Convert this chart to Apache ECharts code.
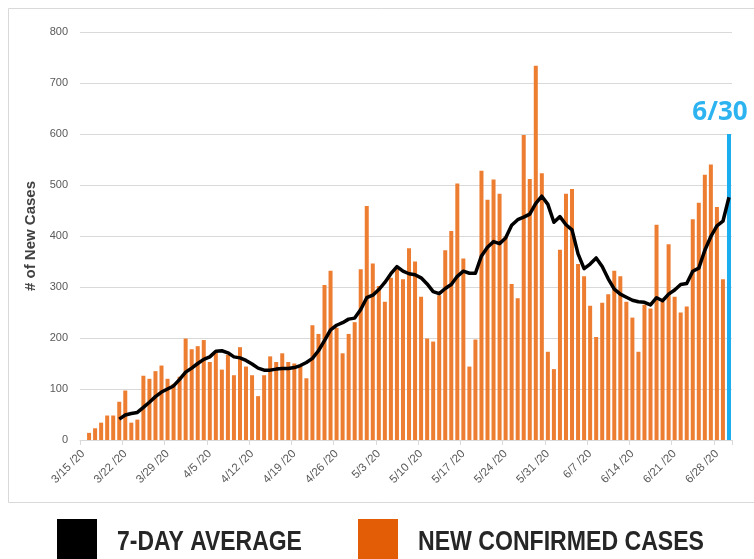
<!DOCTYPE html>
<html>
<head>
    <meta charset="utf-8">
    <title>New Confirmed Cases</title>
    <style>
        html, body { margin: 0; padding: 0; background: #fff; }
        #main { width: 754px; height: 559px; }
    </style>
</head>
<body>
<div id="main"></div>

<script src="https://cdn.jsdelivr.net/npm/echarts@6/dist/echarts.min.js"></script>
<script>
    // days 3/15 .. 6/30, label text as drawn on the axis
    var months = [[3, 15, 31], [4, 1, 30], [5, 1, 31], [6, 1, 30]];
    var days = [];
    months.forEach(function (m) {
        for (var d = m[1]; d <= m[2]; d++) {
            days.push(m[0] + '/' + d + ' /20');
        }
    });

    // daily new confirmed cases (last one = 6/30, drawn in blue)
    var newCases = [
        0, 14, 23, 34, 48, 48, 75, 97, 34, 40,
        126, 120, 135, 146, 120, 110, 124, 199, 178, 184,
        196, 153, 171, 138, 167, 127, 182, 144, 127, 86,
        127, 164, 153, 170, 153, 150, 146, 121, 225, 208,
        304, 332, 220, 170, 208, 231, 335, 459, 346, 302,
        271, 318, 339, 315, 376, 350, 281, 199, 193, 284,
        372, 410, 503, 356, 144, 197, 528, 471, 511, 483,
        400, 306, 278, 598, 512, 734, 523, 173, 139, 373,
        483, 492, 345, 321, 263, 202, 269, 286, 332, 321,
        271, 240, 173, 265, 258, 422, 271, 384, 281, 250,
        262, 433, 465, 520, 540, 457, 315, 600
    ];

    // 7-day average, starts on 3/21
    var avg7 = [
        null, null, null, null, null, null, 41, 49, 52, 54,
        64, 74, 85, 94, 100, 106, 119, 133, 141, 150,
        158, 163, 174, 175, 171, 163, 161, 156, 149, 141,
        137, 137, 139, 140, 140, 142, 146, 152, 160, 175,
        195, 216, 225, 230, 237, 239, 256, 279, 284, 295,
        309, 326, 340, 331, 326, 324, 318, 306, 291, 287,
        297, 305, 321, 331, 327, 327, 361, 378, 389, 385,
        396, 421, 432, 437, 443, 464, 478, 462, 427, 438,
        422, 412, 365, 336, 345, 357, 340, 316, 296, 286,
        280, 274, 271, 270, 265, 279, 273, 286, 294, 305,
        307, 331, 337, 372, 399, 420, 429, 476
    ];

    var yTicks = [0, 800, 100];
    var legendNames = ['7-DAY AVERAGE', 'NEW CONFIRMED CASES'];
    var markerText = '6/30';

    var orange = '#ED7D31';
    var blue = '#1BAEEE';

    var barData = newCases.map(function (v, i) {
        if (i === newCases.length - 1) {
            return {
                value: v,
                itemStyle: { color: blue },
                label: {
                    show: true,
                    position: 'top',
                    distance: 8,
                    offset: [-9, 0],
                    formatter: markerText,
                    color: '#2DB4F0',
                    fontSize: 26,
                    fontWeight: 'bold',
                    fontFamily: 'Open Sans'
                }
            };
        }
        return v;
    });

    var myChart = echarts.init(document.getElementById('main'));

    // legend text is a condensed bold face; squeeze Liberation Sans bold to match
    var legendFont = 'bold 27px "Liberation Sans"';

    var option = {
        animation: false,
        backgroundColor: '#FFFFFF',
        grid: {
            left: 80,
            right: 22,
            top: 32,
            bottom: 119
        },
        xAxis: {
            type: 'category',
            data: days,
            boundaryGap: true,
            axisLine: { lineStyle: { color: '#d9d9d9' } },
            axisTick: {
                show: true,
                interval: 6,
                length: 5,
                lineStyle: { color: '#d9d9d9' }
            },
            axisLabel: {
                interval: 6,
                rotate: 45,
                margin: 12,
                color: '#595959',
                fontSize: 11.5,
                fontFamily: 'Liberation Sans'
            }
        },
        yAxis: {
            type: 'value',
            min: yTicks[0],
            max: yTicks[1],
            interval: yTicks[2],
            name: '# of New Cases',
            nameLocation: 'middle',
            nameGap: 40,
            nameTextStyle: {
                color: '#404040',
                fontSize: 15,
                fontWeight: 'bold',
                fontFamily: 'Liberation Sans'
            },
            axisLine: { show: false },
            axisTick: { show: false },
            axisLabel: {
                margin: 12,
                color: '#595959',
                fontSize: 11,
                fontFamily: 'Liberation Sans'
            },
            splitLine: { lineStyle: { color: '#d9d9d9', width: 1 } }
        },
        series: [
            {
                name: legendNames[1],
                type: 'bar',
                data: barData,
                barWidth: 4,
                itemStyle: { color: orange }
            },
            {
                name: legendNames[0],
                type: 'line',
                data: avg7,
                symbol: 'none',
                z: 5,
                lineStyle: { color: '#000', width: 3.5, join: 'round' }
            }
        ],
        // outer frame and the big legend under the chart
        graphic: [
            {
                type: 'rect',
                shape: { x: 8.5, y: 8.5, width: 760, height: 494 },
                style: { fill: 'none', stroke: '#d9d9d9', lineWidth: 1 },
                silent: true
            },
            {
                type: 'rect',
                shape: { x: 57, y: 519, width: 40, height: 40 },
                style: { fill: '#000' }
            },
            {
                type: 'text',
                x: 117,
                y: 543,
                scaleX: 0.85,
                style: {
                    text: legendNames[0],
                    fill: '#262626',
                    font: legendFont,
                    textVerticalAlign: 'middle'
                }
            },
            {
                type: 'rect',
                shape: { x: 358, y: 519, width: 40, height: 40 },
                style: { fill: '#E35C06' }
            },
            {
                type: 'text',
                x: 418,
                y: 543,
                scaleX: 0.855,
                style: {
                    text: legendNames[1],
                    fill: '#262626',
                    font: legendFont,
                    textVerticalAlign: 'middle'
                }
            }
        ]
    };
    myChart.setOption(option);
</script>
</body>
</html>
